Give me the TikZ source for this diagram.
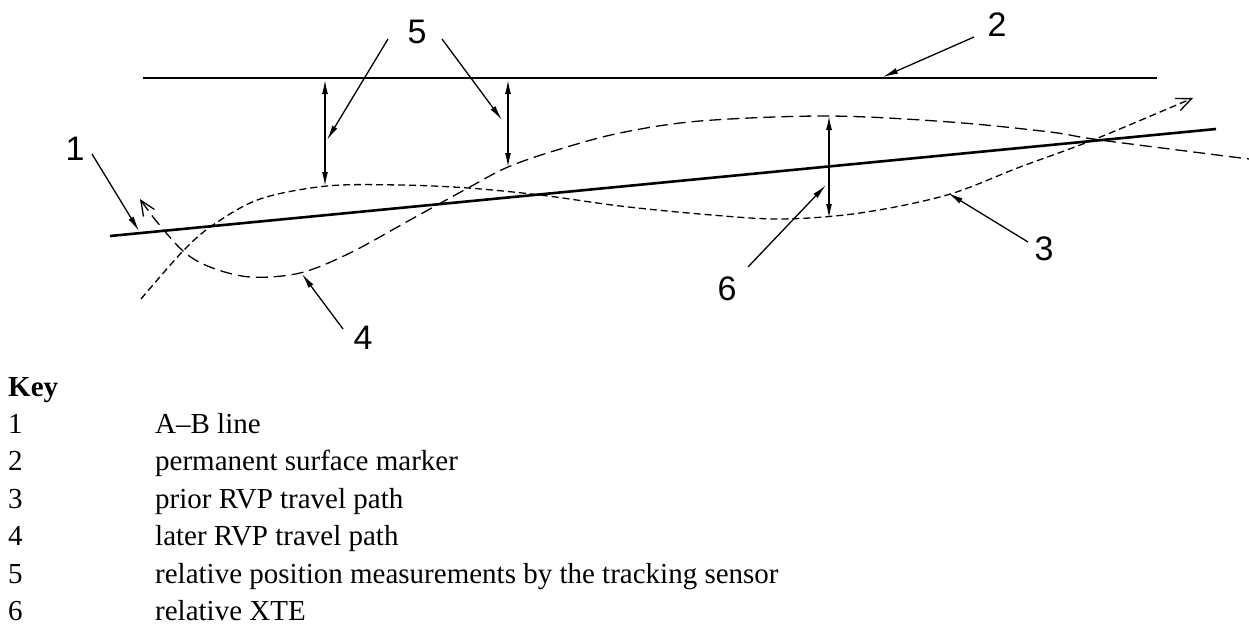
\documentclass[tikz,border=0pt]{standalone}
\usepackage{fontspec}
\setmainfont{Liberation Serif}
\newfontfamily\labfont{Liberation Sans}
\usetikzlibrary{arrows.meta}
\tikzset{openbarb/.tip={Straight Barb[length=15pt,width=13pt,line width=1.3pt]}}
\begin{document}
\begin{tikzpicture}[x=1pt,y=-1pt,
  thickline/.style={line width=2.6pt},
  leader/.style={line width=1.3pt,-{Latex[length=15pt,width=6pt]}},
  dimline/.style={line width=1.3pt,{Latex[length=14pt,width=6pt]}-{Latex[length=14pt,width=6pt]}},
  prior/.style={line width=1.3pt,dash pattern=on 7pt off 4pt},
  later/.style={line width=1.3pt,dash pattern=on 12pt off 6pt},
  lab/.style={font=\labfont\fontsize{34}{40}\selectfont,inner sep=0pt},
  keytxt/.style={font=\fontsize{29}{35}\selectfont,inner sep=0pt,anchor=base west}]
\useasboundingbox (0,0) rectangle (1249,626);
% main lines
\coordinate (m2a) at (143,78); \coordinate (m2b) at (1157,78);
\coordinate (ab1) at (110,236); \coordinate (ab2) at (1216,129);
\draw[thickline] (m2a) -- (m2b);
\draw[thickline] (ab1) -- (ab2);
% prior RVP travel path (3)
\draw[prior,-{openbarb}] plot[smooth,tension=0.55] coordinates {(141,299) (183,251) (213,225) (260,199) (327,186) (400,185) (468,188) (540,195) (620,206) (700,214) (780,219) (860,213) (947,195) (1020,167) (1093,140) (1193,98)};
% later RVP travel path (4)
\draw[later,{openbarb}-] plot[smooth,tension=0.55] coordinates {(140,199) (153,217) (183,251) (210,267) (250,277) (300,273) (350,253) (410,220) (468,188) (508,167) (557,150) (620,133) (700,121) (828,116) (950,122) (1050,132) (1100,140) (1249,159)};
% dimension arrows
\coordinate (d1t) at (325,80); \coordinate (d1b) at (325,186);
\coordinate (d2t) at (508,80); \coordinate (d2b) at (508,167);
\coordinate (d3t) at (829,116); \coordinate (d3b) at (829,218);
\draw[dimline] (d1t) -- (d1b);
\draw[dimline] (d2t) -- (d2b);
\draw[dimline] (d3t) -- (d3b);
% labels
\node[lab] (l1) at (75,149) {1};
\node[lab] (l2) at (997,25) {2};
\node[lab] (l3) at (1044,249) {3};
\node[lab] (l4) at (363,338) {4};
\node[lab] (l5) at (417,32) {5};
\node[lab] (l6) at (727,289) {6};
% leaders
\coordinate (s1) at (92,154); \coordinate (t1) at (139,231);
\coordinate (s2) at (974,37); \coordinate (t2) at (883,77);
\coordinate (s3) at (1028,242); \coordinate (t3) at (948,193);
\coordinate (s4) at (343,329); \coordinate (t4) at (302,274);
\coordinate (s5a) at (388,39); \coordinate (t5a) at (327,140);
\coordinate (s5b) at (442,39); \coordinate (t5b) at (502,120);
\coordinate (s6) at (748,267); \coordinate (t6) at (826,185);
\draw[leader] (s1) -- (t1);
\draw[leader] (s2) -- (t2);
\draw[leader] (s3) -- (t3);
\draw[leader] (s4) -- (t4);
\draw[leader] (s5a) -- (t5a);
\draw[leader] (s5b) -- (t5b);
\draw[leader] (s6) -- (t6);
% key
\node[keytxt,font=\fontsize{29}{35}\selectfont\bfseries] (key) at (8,396) {Key};
\node[keytxt] (k1n) at (8,433) {1};
\node[keytxt] (k1t) at (155,433) {A–B line};
\node[keytxt] (k2n) at (8,470.5) {2};
\node[keytxt] (k2t) at (155,470.5) {permanent surface marker};
\node[keytxt] (k3n) at (8,508) {3};
\node[keytxt] (k3t) at (155,508) {prior RVP travel path};
\node[keytxt] (k4n) at (8,545.5) {4};
\node[keytxt] (k4t) at (155,545.5) {later RVP travel path};
\node[keytxt] (k5n) at (8,583) {5};
\node[keytxt] (k5t) at (155,583) {relative position measurements by the tracking sensor};
\node[keytxt] (k6n) at (8,620.5) {6};
\node[keytxt] (k6t) at (155,620.5) {relative XTE};
\end{tikzpicture}
\end{document}
